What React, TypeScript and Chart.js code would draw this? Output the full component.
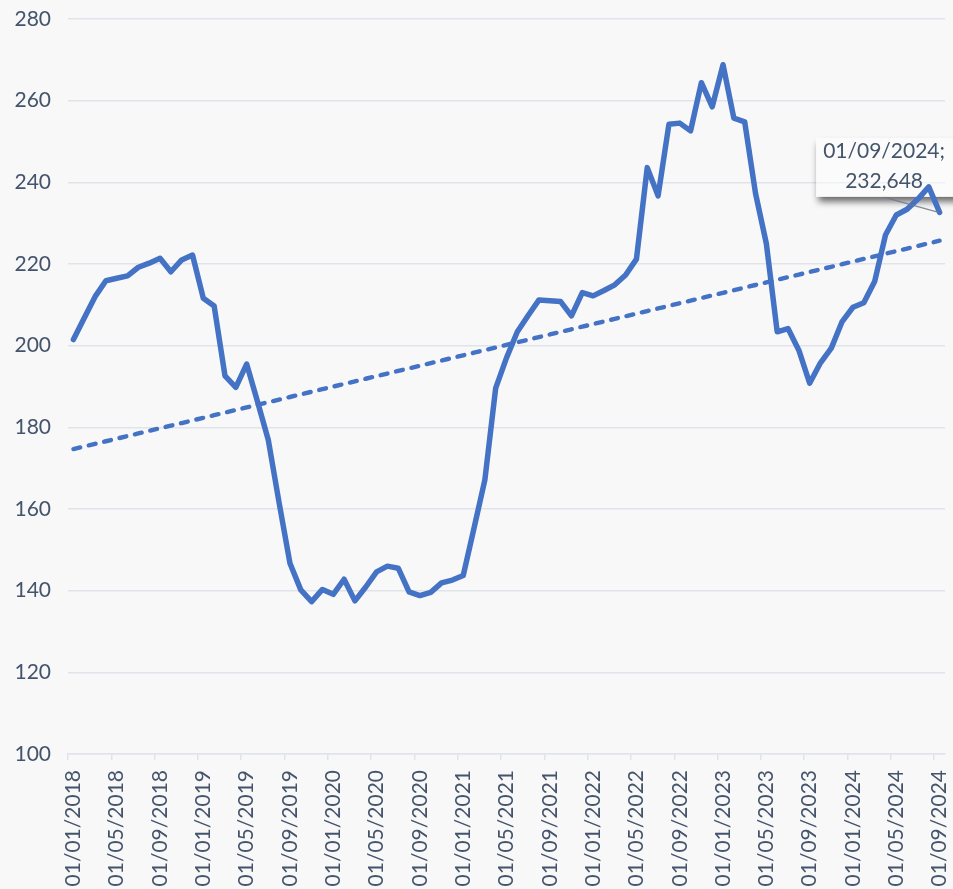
import { useEffect, useRef } from 'react';
import { Chart, registerables } from 'chart.js';

Chart.register(...registerables);

// ---- data ----
const startYear = 2018;
const monthCount = 81;
const monthLabels: string[] = [];
for (let k = 0; k < monthCount; k++) {
  const m = (k % 12) + 1;
  const y = startYear + Math.floor(k / 12);
  monthLabels.push(`01/${String(m).padStart(2, '0')}/${y}`);
}

const indexValues: number[] = [
  201.5, 206.8, 212.0, 215.9, 216.5, 217.1, 219.2, 220.2, 221.4, 218.1, 221.0, 222.2,
  211.6, 209.7, 192.6, 189.8, 195.5, 186.3, 176.9, 161.5, 146.7, 140.2, 137.3, 140.3,
  139.1, 142.8, 137.5, 140.9, 144.6, 146.0, 145.5, 139.7, 138.8, 139.6, 141.9, 142.6,
  143.7, 155.3, 167.1, 189.6, 197.0, 203.4, 207.4, 211.2, 211.0, 210.8, 207.3, 213.0,
  212.2, 213.5, 214.9, 217.3, 221.2, 243.6, 236.7, 254.2, 254.5, 252.6, 264.4, 258.5,
  268.8, 255.7, 254.8, 237.3, 225.0, 203.4, 204.2, 198.9, 190.8, 195.8, 199.4, 205.9,
  209.4, 210.5, 215.7, 227.1, 232.0, 233.4, 235.9, 238.9, 232.648,
];

const yMin = 100;
const yMax = 280;
const yStep = 20;
const labelEvery = 4;

// linear trend (least squares) of the series
function linearTrend(values: number[]): number[] {
  const n = values.length;
  let sx = 0, sy = 0, sxx = 0, sxy = 0;
  values.forEach((v, i) => { sx += i; sy += v; sxx += i * i; sxy += i * v; });
  const slope = (n * sxy - sx * sy) / (n * sxx - sx * sx);
  const icpt = (sy - slope * sx) / n;
  return values.map((_, i) => icpt + slope * i);
}

const W = 953;
const H = 889;
const BLUE = '#4472C4';
const TEXT = '#44546A';
const GRID = '#e0e4ea';
const BG = '#f8f8f9';
const FONT = { family: 'Lato', size: 21 };

const bgPlugin = {
  id: 'bg',
  beforeDraw(chart: any) {
    const { ctx } = chart;
    ctx.save();
    ctx.fillStyle = BG;
    ctx.fillRect(0, 0, chart.width, chart.height);
    ctx.restore();
  },
};

function lastPoint(chart: any) {
  const meta = chart.getDatasetMeta(0);
  const pt = meta.data[meta.data.length - 1];
  return { x: pt.x, y: pt.y };
}

const labelPlugin = {
  id: 'lastLabel',
  beforeDatasetsDraw(chart: any) {
    const { ctx } = chart;
    const p = lastPoint(chart);
    const bx = p.x - 123.5;
    const by = p.y - 74.5;
    const bw = 160;
    const bh = 59;
    ctx.save();
    ctx.beginPath();
    ctx.rect(0, 0, chart.width, chart.height);
    ctx.rect(bx, by, bw, bh);
    ctx.clip('evenodd');
    ctx.shadowColor = 'rgba(0,0,0,0.6)';
    ctx.shadowBlur = 7;
    ctx.shadowOffsetX = 2;
    ctx.shadowOffsetY = 5;
    ctx.fillStyle = '#ffffff';
    ctx.fillRect(bx, by, bw, bh);
    ctx.restore();
    ctx.save();
    ctx.fillStyle = 'rgba(255,255,255,0.45)';
    ctx.fillRect(bx, by, bw, bh);
    ctx.restore();
  },
  afterDatasetsDraw(chart: any) {
    const { ctx } = chart;
    const p = lastPoint(chart);
    const last = indexValues.length - 1;
    const dateText = monthLabels[last] + ';';
    const valText = indexValues[last].toFixed(3).replace('.', ',');
    ctx.save();
    ctx.strokeStyle = 'rgba(110,120,135,0.85)';
    ctx.lineWidth = 1.2;
    ctx.beginPath();
    ctx.moveTo(p.x - 55, p.y - 15);
    ctx.lineTo(p.x - 1, p.y);
    ctx.stroke();
    ctx.fillStyle = TEXT;
    ctx.font = `${FONT.size}px ${FONT.family}`;
    ctx.textAlign = 'center';
    ctx.textBaseline = 'alphabetic';
    ctx.fillText(dateText, p.x - 55.5, p.y - 54.5);
    ctx.fillText(valText, p.x - 55.5, p.y - 24.5);
    ctx.restore();
  },
};

export default function App() {
  const canvasRef = useRef<HTMLCanvasElement | null>(null);

  useEffect(() => {
    let chart: Chart | null = null;
    let cancelled = false;
    const build = () => {
      if (cancelled || !canvasRef.current) return;
      chart = new Chart(canvasRef.current, {
        type: 'line',
        data: {
          labels: monthLabels,
          datasets: [
            {
              data: indexValues,
              borderColor: BLUE,
              borderWidth: 5.5,
              pointRadius: 0,
              tension: 0,
              borderJoinStyle: 'round',
              borderCapStyle: 'round',
              fill: false,
            },
            {
              data: linearTrend(indexValues),
              borderColor: BLUE,
              borderWidth: 4.4,
              borderDash: [7, 8.8],
              borderCapStyle: 'round',
              pointRadius: 0,
              tension: 0,
              fill: false,
            },
          ],
        },
        options: {
          animation: false,
          responsive: false,
          devicePixelRatio: 1,
          layout: { padding: { left: 0, right: 8, top: 19, bottom: 0 } },
          plugins: { legend: { display: false }, tooltip: { enabled: false } },
          scales: {
            x: {
              type: 'category',
              offset: true,
              grid: {
                offset: true,
                display: true,
                drawOnChartArea: false,
                drawTicks: true,
                tickLength: 6,
                lineWidth: 1.5,
                color: GRID,
                tickColor: (ctx: any) => (ctx.index % labelEvery === 0 ? GRID : 'rgba(0,0,0,0)'),
              },
              border: { display: true, color: GRID, width: 1.5 },
              ticks: {
                autoSkip: false,
                minRotation: 90,
                maxRotation: 90,
                padding: 10,
                color: TEXT,
                font: FONT,
                callback: function (this: any, val: any, idx: number) {
                  return idx % labelEvery === 0 ? this.getLabelForValue(val) : '';
                },
              },
              afterFit: (scale: any) => {
                scale.height = 135;
                scale.paddingLeft = 0;
                scale.paddingRight = 0;
              },
            },
            y: {
              min: yMin,
              max: yMax,
              ticks: { stepSize: yStep, padding: 17, color: TEXT, font: FONT },
              grid: { color: GRID, lineWidth: 1.5, drawTicks: false },
              border: { display: false },
              afterFit: (scale: any) => {
                scale.width = 68;
                scale.paddingTop = 0;
                scale.paddingBottom = 0;
              },
            },
          },
        },
        plugins: [bgPlugin, labelPlugin],
      });
    };
    const fontsAny: any = (document as any).fonts;
    if (fontsAny && fontsAny.load) {
      fontsAny.load('21px Lato').then(build, build);
    } else {
      build();
    }
    return () => {
      cancelled = true;
      if (chart) chart.destroy();
    };
  }, []);

  return (
    <div style={{ position: 'absolute', left: 0, top: 0, width: W, height: H, background: BG }}>
      <canvas ref={canvasRef} width={W} height={H} style={{ display: 'block' }} />
    </div>
  );
}
